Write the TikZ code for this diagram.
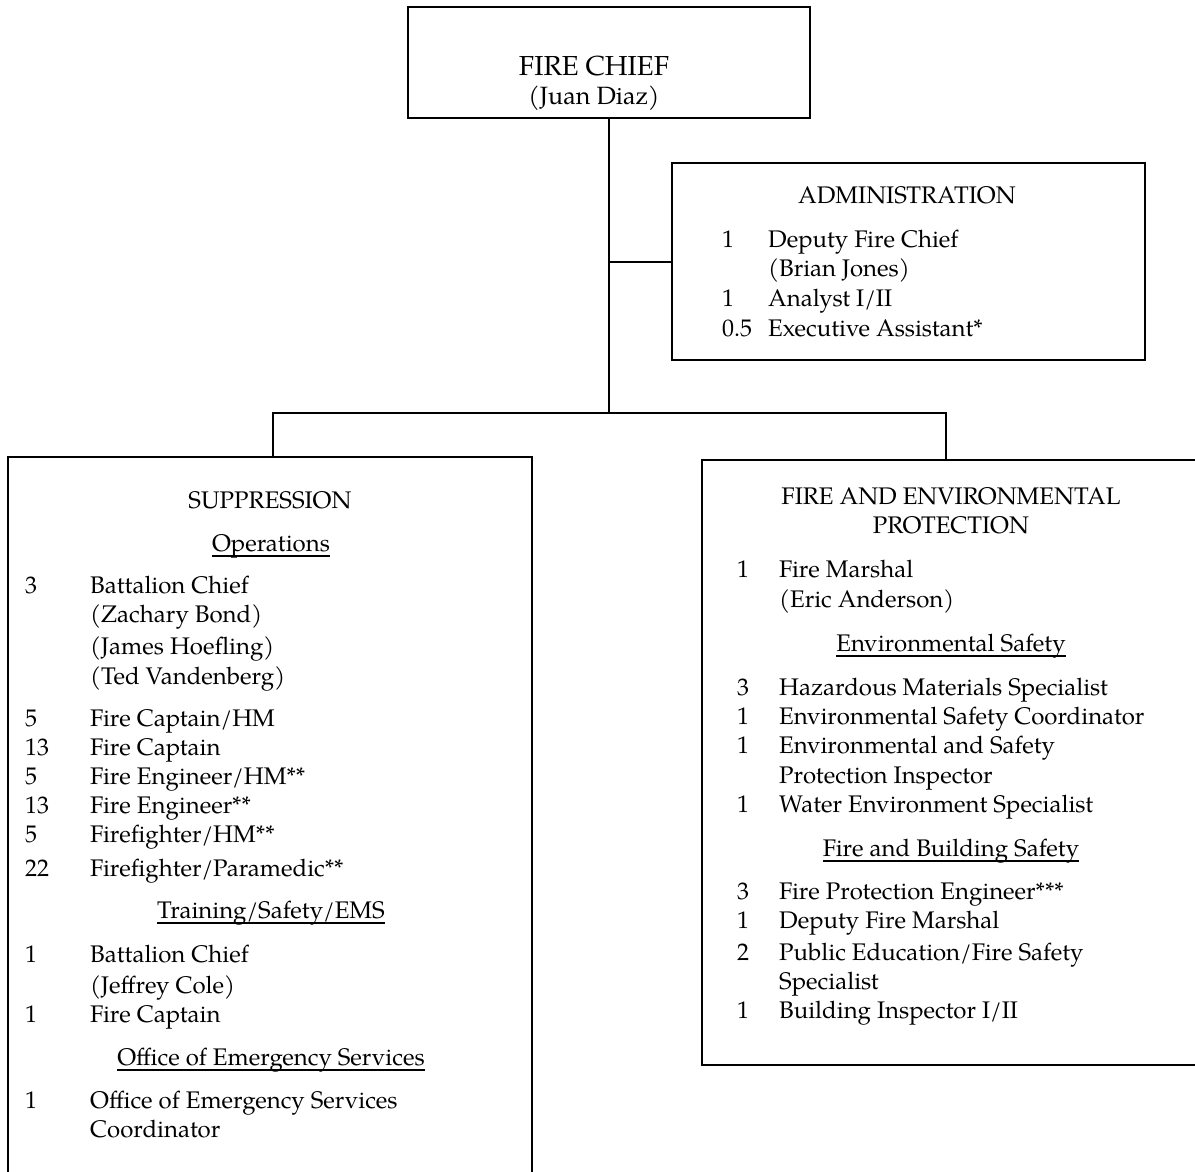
\documentclass[tikz,border=0pt]{standalone}
\usepackage{fontspec}
\setmainfont{TeX Gyre Pagella}
\newcommand\myul[1]{\setbox0\hbox{#1}\rlap{\rule[-6pt]{\wd0}{1.8pt}}\box0}
\begin{document}
\begin{tikzpicture}[x=1pt,y=-1pt,
  box/.style={draw=black, line width=1.3pt, rectangle, inner sep=0pt},
  conn/.style={draw=black, line width=2pt},
  txt/.style={anchor=base west, inner sep=0pt, font=\fontsize{24}{29}\selectfont},
  hd/.style={anchor=base, inner sep=0pt, font=\fontsize{24}{29}\selectfont}]
\useasboundingbox (0,0) rectangle (1195,1172);
\clip (0,0) rectangle (1195,1172);
\fill[white] (0,0) rectangle (1195,1172);

% boxes
\node[box, minimum width=402pt, minimum height=111pt] (chief) at (609,62.5) {};
\node[box, minimum width=473pt, minimum height=197pt] (admin) at (908.5,261.5) {};
\node[box, minimum width=524pt, minimum height=723pt] (supp) at (270,818.5) {};
\node[box, minimum width=498pt, minimum height=605pt] (fep) at (951,762.5) {};

% connectors
\coordinate (busL) at (273,413);
\coordinate (busM) at (609,413);
\coordinate (busR) at (946,413);
\draw[conn] (chief.south) -- (busM);
\draw[conn] (admin.west) -- (admin.west -| chief.south);
\draw[conn] (busL |- supp.north) -- (busL) -- (busR) -- (busR |- fep.north);

% chief
\node[hd, font=\fontsize{27.5}{32}\selectfont] (c1) at (594,76) {FIRE CHIEF};
\node[hd, font=\fontsize{25}{30}\selectfont] (c2) at (594,105) {(Juan Diaz)};

% admin
\node[hd] (a0) at (907,203) {ADMINISTRATION};
\node[txt] (a1n) at (722,247) {1};
\node[txt] (a1t) at (768,247) {Deputy Fire Chief};
\node[txt] (a1p) at (768,276) {(Brian Jones)};
\node[txt] (a2n) at (722,306) {1};
\node[txt] (a2t) at (768,306) {Analyst I/II};
\node[txt] (a3n) at (722,336) {0.5};
\node[txt] (a3t) at (768,336) {Executive Assistant*};

% suppression
\node[hd] (s0) at (270,508) {SUPPRESSION};
\node[hd] (s1) at (271,551) {\myul{Operations}};
\node[txt] (s1n) at (25,593) {3};
\node[txt] (s1t) at (90,593) {Battalion Chief};
\node[txt] (s1a) at (90,622) {(Zachary Bond)};
\node[txt] (s1b) at (90,654) {(James Hoefling)};
\node[txt] (s1c) at (90,684) {(Ted Vandenberg)};
\node[txt] (s2n) at (25,726) {5};
\node[txt] (s2t) at (90,726) {Fire Captain/HM};
\node[txt] (s3n) at (25,755) {13};
\node[txt] (s3t) at (90,755) {Fire Captain};
\node[txt] (s4n) at (25,784) {5};
\node[txt] (s4t) at (90,784) {Fire Engineer/HM**};
\node[txt] (s5n) at (25,813) {13};
\node[txt] (s5t) at (90,813) {Fire Engineer**};
\node[txt] (s6n) at (25,842) {5};
\node[txt] (s6t) at (90,842) {Firefighter/HM**};
\node[txt] (s7n) at (25,876) {22};
\node[txt] (s7t) at (90,876) {Firefighter/Paramedic**};
\node[hd] (s8) at (271,918) {\myul{Training/Safety/EMS}};
\node[txt] (s9n) at (25,962) {1};
\node[txt] (s9t) at (90,962) {Battalion Chief};
\node[txt] (s9p) at (90,993) {(Jeffrey Cole)};
\node[txt] (s10n) at (25,1022) {1};
\node[txt] (s10t) at (90,1022) {Fire Captain};
\node[hd] (s11) at (271,1065) {\myul{Office of Emergency Services}};
\node[txt] (s12n) at (25,1108) {1};
\node[txt] (s12t) at (90,1108) {Office of Emergency Services};
\node[txt] (s12u) at (90,1137) {Coordinator};

% fire and environmental protection
\node[hd] (f0a) at (951,504) {FIRE AND ENVIRONMENTAL};
\node[hd] (f0b) at (951,533) {PROTECTION};
\node[txt] (f1n) at (737,577) {1};
\node[txt] (f1t) at (779,577) {Fire Marshal};
\node[txt] (f1p) at (779,607) {(Eric Anderson)};
\node[hd] (f2) at (951,651) {\myul{Environmental Safety}};
\node[txt] (f3n) at (737,695) {3};
\node[txt] (f3t) at (779,695) {Hazardous Materials Specialist};
\node[txt] (f4n) at (737,724) {1};
\node[txt] (f4t) at (779,724) {Environmental Safety Coordinator};
\node[txt] (f5n) at (737,753) {1};
\node[txt] (f5t) at (779,753) {Environmental and Safety};
\node[txt] (f5u) at (779,783) {Protection Inspector};
\node[txt] (f6n) at (737,812) {1};
\node[txt] (f6t) at (779,812) {Water Environment Specialist};
\node[hd] (f7) at (951,856) {\myul{Fire and Building Safety}};
\node[txt] (f8n) at (737,899) {3};
\node[txt] (f8t) at (779,899) {Fire Protection Engineer***};
\node[txt] (f9n) at (737,928) {1};
\node[txt] (f9t) at (779,928) {Deputy Fire Marshal};
\node[txt] (f10n) at (737,960) {2};
\node[txt] (f10t) at (779,960) {Public Education/Fire Safety};
\node[txt] (f10u) at (779,989) {Specialist};
\node[txt] (f11n) at (737,1018) {1};
\node[txt] (f11t) at (779,1018) {Building Inspector I/II};
\end{tikzpicture}
\end{document}
